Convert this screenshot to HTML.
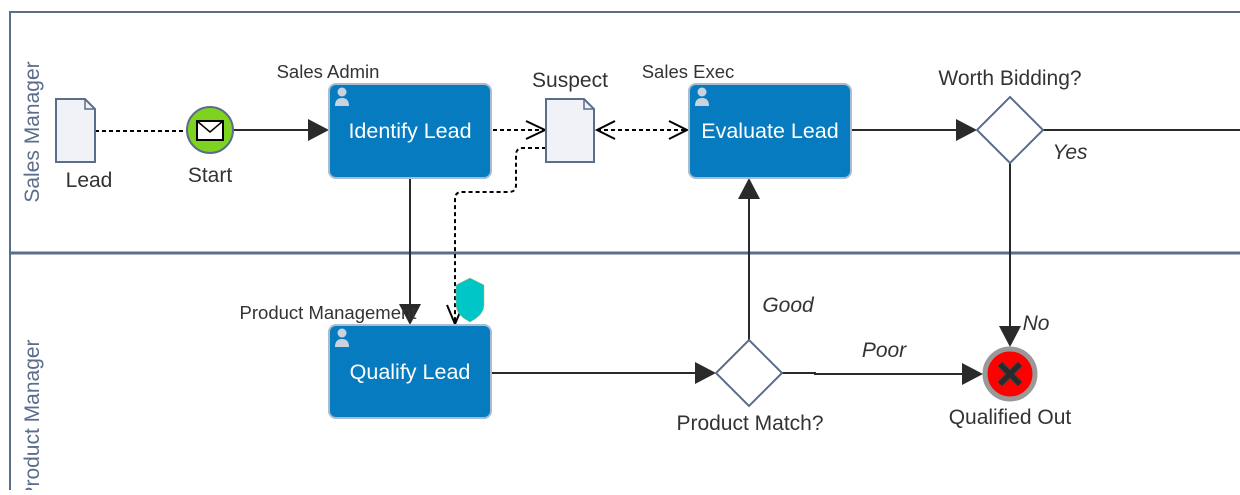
<!DOCTYPE html>
<html><head><style>
body{margin:0;width:1240px;height:490px;background:#fff;overflow:hidden;font-family:"Liberation Sans",sans-serif}
</style></head><body>
<svg width="1240" height="490" xmlns="http://www.w3.org/2000/svg" font-family="Liberation Sans, sans-serif">
<!-- pool -->
<path d="M1240,12 H10 V490" fill="none" stroke="#5a6d8a" stroke-width="2"/>
<line x1="10" y1="253" x2="1240" y2="253" stroke="#5a6d8a" stroke-width="3"/>
<text transform="translate(39,132) rotate(-90)" text-anchor="middle" font-size="21" fill="#5a6d8a">Sales Manager</text>
<text transform="translate(39,420) rotate(-90)" text-anchor="middle" font-size="21" fill="#5a6d8a">Product Manager</text>

<!-- sequence flows -->
<line x1="234" y1="130" x2="308" y2="130" stroke="#2a2a2a" stroke-width="2"/>
<path d="M308,119 L329,130 L308,141Z" fill="#2a2a2a"/>
<line x1="851" y1="130" x2="956" y2="130" stroke="#2a2a2a" stroke-width="2"/>
<path d="M956,119 L977,130 L956,141Z" fill="#2a2a2a"/>
<line x1="1043" y1="130" x2="1240" y2="130" stroke="#2a2a2a" stroke-width="2"/>
<line x1="410" y1="178" x2="410" y2="304" stroke="#2a2a2a" stroke-width="2"/>
<path d="M399,304 L410,325 L421,304Z" fill="#2a2a2a"/>
<line x1="491" y1="373" x2="695" y2="373" stroke="#2a2a2a" stroke-width="2"/>
<path d="M695,362 L716,373 L695,384Z" fill="#2a2a2a"/>
<line x1="749" y1="340" x2="749" y2="199" stroke="#2a2a2a" stroke-width="2"/>
<path d="M738,199 L749,178 L760,199Z" fill="#2a2a2a"/>
<path d="M782,373 H815 V374 H962" fill="none" stroke="#2a2a2a" stroke-width="2"/>
<path d="M962,363 L983,374 L962,385Z" fill="#2a2a2a"/>
<line x1="1010" y1="163" x2="1010" y2="326" stroke="#2a2a2a" stroke-width="2"/>
<path d="M999,326 L1010,347 L1021,326Z" fill="#2a2a2a"/>

<!-- dotted associations -->
<line x1="95" y1="131" x2="186" y2="131" stroke="#000" stroke-width="2" stroke-dasharray="4,3"/>
<line x1="493" y1="130" x2="544" y2="130" stroke="#000" stroke-width="2" stroke-dasharray="4,3"/>
<path d="M526,121 L545,130 L526,139" fill="none" stroke="#000" stroke-width="2"/>
<line x1="597" y1="130" x2="687" y2="130" stroke="#000" stroke-width="2" stroke-dasharray="4,3"/>
<path d="M615,121 L597,130 L615,139" fill="none" stroke="#000" stroke-width="2"/>
<path d="M669,121 L687,130 L669,139" fill="none" stroke="#000" stroke-width="2"/>
<path d="M546,148 H523 Q516,148 516,155 V185 Q516,192 509,192 H462 Q455,192 455,199 V323" fill="none" stroke="#000" stroke-width="2" stroke-dasharray="4,3"/>
<path d="M447,305 L455,324 L463,305" fill="none" stroke="#000" stroke-width="2"/>
<!-- shield -->
<path d="M470,278 L484,285 V305 Q484,315 470,322 Q456,315 456,305 V285Z" fill="#00c6c8" stroke="#c8b060" stroke-width="0.5"/>

<!-- Lead doc -->
<path d="M56,99 H85 L95,109 V162 H56Z" fill="#f1f2f7" stroke="#5a6d8a" stroke-width="2"/>
<path d="M85,99 V109 H95" fill="none" stroke="#5a6d8a" stroke-width="1.5"/>
<text x="89" y="187" text-anchor="middle" font-size="21" fill="#333">Lead</text>
<!-- Start -->
<circle cx="210" cy="130" r="23" fill="#7ed321" stroke="#5a6d8a" stroke-width="2"/>
<rect x="197" y="121" width="26" height="19" fill="#fff" stroke="#000" stroke-width="2"/>
<path d="M197,121 L210,132 L223,121" fill="none" stroke="#000" stroke-width="1.5"/>
<text x="210" y="182" text-anchor="middle" font-size="21" fill="#333">Start</text>

<!-- tasks -->
<g>
<rect x="329" y="84" width="162" height="94" rx="7" fill="#077bbf" stroke="#a9bcd0" stroke-width="2"/>
<circle cx="342" cy="92" r="4.5" fill="#c9d3e0"/><path d="M335,106 Q335,98 342,98 Q349,98 349,106Z" fill="#c9d3e0"/>
<text x="410" y="138" text-anchor="middle" font-size="21.5" fill="#fff">Identify Lead</text>
<text x="328" y="78" text-anchor="middle" font-size="18.5" fill="#333">Sales Admin</text>
</g>
<g>
<rect x="689" y="84" width="162" height="94" rx="7" fill="#077bbf" stroke="#a9bcd0" stroke-width="2"/>
<circle cx="702" cy="92" r="4.5" fill="#c9d3e0"/><path d="M695,106 Q695,98 702,98 Q709,98 709,106Z" fill="#c9d3e0"/>
<text x="770" y="138" text-anchor="middle" font-size="21.5" fill="#fff">Evaluate Lead</text>
<text x="688" y="78" text-anchor="middle" font-size="18.5" fill="#333">Sales Exec</text>
</g>
<g>
<rect x="329" y="325" width="162" height="93" rx="7" fill="#077bbf" stroke="#a9bcd0" stroke-width="2"/>
<circle cx="342" cy="333" r="4.5" fill="#c9d3e0"/><path d="M335,347 Q335,339 342,339 Q349,339 349,347Z" fill="#c9d3e0"/>
<text x="410" y="379" text-anchor="middle" font-size="21.5" fill="#fff">Qualify Lead</text>
<text x="328" y="319" text-anchor="middle" font-size="18.5" fill="#333">Product Management</text>
</g>

<!-- Suspect doc -->
<path d="M546,99 H584 L594,109 V162 H546Z" fill="#f1f2f7" stroke="#5a6d8a" stroke-width="2"/>
<path d="M584,99 V109 H594" fill="none" stroke="#5a6d8a" stroke-width="1.5"/>
<text x="570" y="87" text-anchor="middle" font-size="21" fill="#333">Suspect</text>

<!-- gateways -->
<path d="M1010,97 L1043,130 L1010,163 L977,130Z" fill="#fff" stroke="#5a6d8a" stroke-width="2"/>
<text x="1010" y="85" text-anchor="middle" font-size="21" fill="#333">Worth Bidding?</text>
<text x="1070" y="159" text-anchor="middle" font-size="21" font-style="italic" fill="#333">Yes</text>
<path d="M749,340 L782,373 L749,406 L716,373Z" fill="#fff" stroke="#5a6d8a" stroke-width="2"/>
<text x="750" y="430" text-anchor="middle" font-size="21" fill="#333">Product Match?</text>
<text x="788" y="312" text-anchor="middle" font-size="21" font-style="italic" fill="#333">Good</text>
<text x="884" y="357" text-anchor="middle" font-size="21" font-style="italic" fill="#333">Poor</text>
<text x="1036" y="330" text-anchor="middle" font-size="21" font-style="italic" fill="#333">No</text>

<!-- end -->
<circle cx="1010" cy="374" r="25" fill="#ff0000" stroke="#999" stroke-width="5"/>
<path d="M1000,364 L1020,384 M1020,364 L1000,384" stroke="#444" stroke-width="7"/>
<path d="M1000,364 L1020,384 M1020,364 L1000,384" stroke="#2a2a2a" stroke-width="5"/>
<text x="1010" y="424" text-anchor="middle" font-size="21" fill="#333">Qualified Out</text>
</svg>
</body></html>
